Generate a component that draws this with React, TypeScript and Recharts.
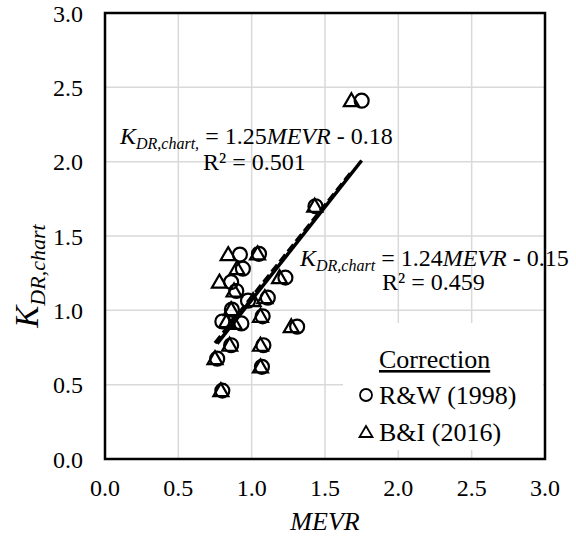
import React from 'react';
import { ScatterChart, Scatter, XAxis, YAxis, CartesianGrid, ReferenceArea } from 'recharts';

// K_DR,chart values (shared by both corrections)
const kdrValues = [2.41, 1.70, 1.38, 1.375, 1.28, 1.22, 1.19, 1.13, 1.085, 1.065, 1.005, 0.925, 0.912, 0.96, 0.89, 0.765, 0.765, 0.675, 0.62, 0.46];
// MEVR corrected by R&W (1998)
const rwMevr = [1.75, 1.435, 1.05, 0.92, 0.94, 1.23, 0.86, 0.895, 1.11, 0.975, 0.865, 0.80, 0.93, 1.075, 1.31, 0.86, 1.08, 0.765, 1.07, 0.80];
// MEVR corrected by B&I (2016)
const biMevr = [1.68, 1.43, 1.04, 0.84, 0.90, 1.19, 0.78, 0.88, 1.09, 1.01, 0.86, 0.83, 0.88, 1.06, 1.27, 0.85, 1.06, 0.75, 1.06, 0.79];

// trendline end points
const rwTrendX = [0.765, 1.75];
const rwTrendY = [0.776, 2.008];
const biTrendX = [0.75, 1.68];
const biTrendY = [0.78, 1.93];

const axisTicks = [0, 0.5, 1.0, 1.5, 2.0, 2.5, 3.0];

const rwData = rwMevr.map((x, i) => ({ x, y: kdrValues[i] }));
const biData = biMevr.map((x, i) => ({ x, y: kdrValues[i] }));
const rwTrend = rwTrendX.map((x, i) => ({ x, y: rwTrendY[i] }));
const biTrend = biTrendX.map((x, i) => ({ x, y: biTrendY[i] }));

const FONT = '"Liberation Serif", "Times New Roman", serif';

const CircleShape = (props: any) => {
  const { cx, cy } = props;
  if (cx == null || cy == null) return null;
  return <circle cx={cx} cy={cy} r={7} fill="none" stroke="#000" strokeWidth={2.2} />;
};

const TriangleShape = (props: any) => {
  const { cx, cy } = props;
  if (cx == null || cy == null) return null;
  const d = `M${cx},${cy - 7.5} L${cx + 7.5},${cy + 5.5} L${cx - 7.5},${cy + 5.5} Z`;
  return <path d={d} fill="none" stroke="#000" strokeWidth={2.2} strokeLinejoin="miter" />;
};

const NoShape = () => <g />;

const fmt = (v: number) => v.toFixed(1);

export default function App() {
  return (
    <div style={{ position: 'absolute', left: 0, top: 0, width: 576, height: 538, overflow: 'hidden', background: '#fff' }}>
      <ScatterChart width={576} height={538} margin={{ top: 13, right: 31, bottom: 19, left: 45 }}>
        <CartesianGrid stroke="#d9d9d9" strokeWidth={1.5} />
        <XAxis
          type="number"
          dataKey="x"
          domain={[0, 3]}
          ticks={axisTicks}
          tickFormatter={fmt}
          height={60}
          tickSize={0}
          tickMargin={20}
          axisLine={false}
          tick={{ fontSize: 24, fontFamily: FONT, fill: '#000' }}
          allowDataOverflow
        />
        <YAxis
          type="number"
          dataKey="y"
          domain={[0, 3]}
          ticks={axisTicks}
          tickFormatter={fmt}
          width={60}
          tickSize={0}
          tickMargin={22}
          axisLine={false}
          tick={{ fontSize: 24, fontFamily: FONT, fill: '#000' }}
          allowDataOverflow
        />
        <ReferenceArea x1={0} x2={3} y1={0} y2={3} fill="none" stroke="#000" strokeWidth={2.5} fillOpacity={0} />
        <Scatter data={biTrend} line={{ stroke: '#000', strokeWidth: 3.5, strokeDasharray: '9 4' }} shape={NoShape} isAnimationActive={false} />
        <Scatter data={rwTrend} line={{ stroke: '#000', strokeWidth: 3.5 }} shape={NoShape} isAnimationActive={false} />
        <Scatter data={rwData} shape={CircleShape} isAnimationActive={false} />
        <Scatter data={biData} shape={TriangleShape} isAnimationActive={false} />
      </ScatterChart>
      <svg width={576} height={538} style={{ position: 'absolute', left: 0, top: 0, pointerEvents: 'none' }} fontFamily={FONT}>
        <text x={120} y={144} fontSize={24} fill="#000">
          <tspan fontStyle="italic">K</tspan>
          <tspan fontStyle="italic" fontSize={16} dy={5}>DR,chart,</tspan>
          <tspan dy={-5}>{' = 1.25'}</tspan>
          <tspan fontStyle="italic">MEVR</tspan>
          <tspan>{' - 0.18'}</tspan>
        </text>
        <text x={203} y={170} fontSize={24} fill="#000">R² = 0.501</text>
        <text x={300} y={266} fontSize={24} fill="#000">
          <tspan fontStyle="italic">K</tspan>
          <tspan fontStyle="italic" fontSize={16} dy={5}>DR,chart</tspan>
          <tspan dy={-5}>{' = 1.24'}</tspan>
          <tspan fontStyle="italic">MEVR</tspan>
          <tspan>{' - 0.15'}</tspan>
        </text>
        <text x={382} y={290} fontSize={24} fill="#000">R² = 0.459</text>

        <rect x={343} y={323} width={200} height={127} fill="#fff" />
        <text x={379} y={368} fontSize={26} fill="#000" textDecoration="underline">Correction</text>
        <circle cx={366} cy={395} r={6} fill="none" stroke="#000" strokeWidth={1.8} />
        <text x={379} y={404} fontSize={26} fill="#000">R&amp;W (1998)</text>
        <path d="M366,426 L372.5,437 L359.5,437 Z" fill="none" stroke="#000" strokeWidth={1.8} />
        <text x={379} y={441} fontSize={26} fill="#000">B&amp;I (2016)</text>

        <text x={325} y={530} fontSize={26} fontStyle="italic" textAnchor="middle" fill="#000">MEVR</text>
        <text transform="translate(38,276) rotate(-90)" fontSize={33} fill="#000" textAnchor="middle">
          <tspan fontStyle="italic">K</tspan>
          <tspan fontStyle="italic" fontSize={22} dy={7}>DR,chart</tspan>
        </text>
      </svg>
    </div>
  );
}
